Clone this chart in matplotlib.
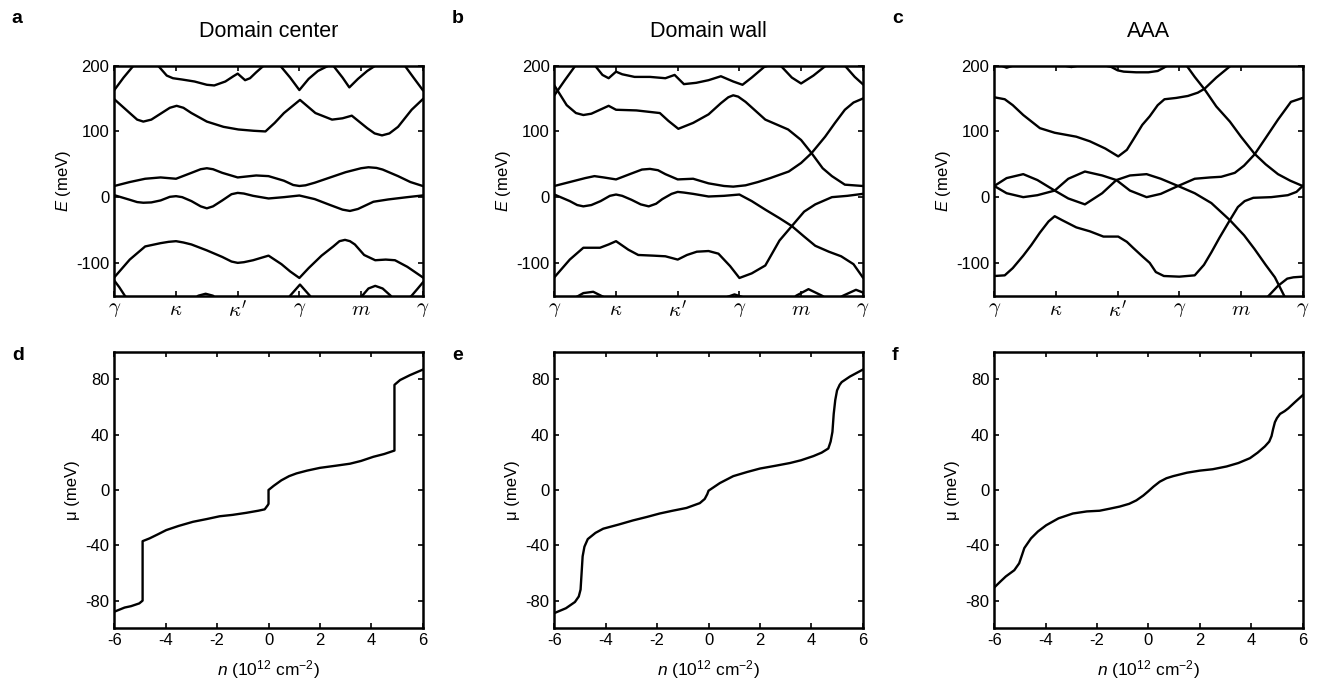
import matplotlib.pyplot as plt
import numpy as np

plt.rcParams['font.family'] = ['Liberation Sans', 'DejaVu Sans']
plt.rcParams['mathtext.fontset'] = 'custom'
plt.rcParams['mathtext.rm'] = 'Liberation Sans'
plt.rcParams['mathtext.it'] = 'Liberation Sans:italic'
plt.rcParams['axes.unicode_minus'] = False

# ---- band structures (k path index 0..5 : gamma, kappa, kappa', gamma, m, gamma) ----
k_labels = [r'$\gamma$', r'$\kappa$', r"$\kappa'$", r'$\gamma$', r'$m$', r'$\gamma$']

# a: domain center
ca1_k = [0, 0.25, 0.5, 0.75, 0.88, 1.0, 1.12, 1.25, 1.5, 1.75, 1.9, 2.0, 2.1, 2.25, 2.5, 2.71, 2.85, 3.0, 3.15, 3.36, 3.55, 3.65, 3.74, 3.82, 3.9, 4.05, 4.23, 4.4, 4.55, 4.75, 5.0]
ca1_e = [-122, -95, -75, -70, -68, -67, -69, -72, -81, -91, -98, -100, -99, -96, -89, -102, -113, -123, -108, -89, -75, -67, -65, -67, -72, -88, -96, -95, -96, -106, -122]
ca2_k = [0, 0.08, 0.17, 0.3, 1.25, 1.36, 1.48, 1.6, 1.7, 2.7, 2.85, 3.01, 3.17, 3.3, 3.9, 4.02, 4.12, 4.23, 4.35, 4.48, 4.6, 4.7, 4.82, 4.92, 5.0]
ca2_e = [-127, -137, -150, -165, -160, -150, -147, -150, -160, -170, -150, -133, -150, -170, -165, -150, -139, -135, -139, -150, -165, -160, -150, -139, -130]
ca3_k = [0, 0.25, 0.37, 0.47, 0.6, 0.75, 0.9, 1.0, 1.1, 1.25, 1.4, 1.5, 1.6, 1.75, 1.9, 2.0, 2.1, 2.25, 2.5, 2.75, 3.0, 3.25, 3.5, 3.7, 3.82, 3.95, 4.2, 4.44, 4.75, 5.0]
ca3_e = [3, -4, -7.5, -8.5, -8, -5, 0.5, 1.5, 0, -6, -14, -17, -14, -5, 4.5, 6.5, 5.5, 2, -2, 0, 2.5, -3, -12, -19, -21, -18, -7, -3.5, 0, 2.6]
ca4_k = [0, 0.25, 0.5, 0.75, 1.0, 1.25, 1.4, 1.5, 1.6, 1.75, 2.0, 2.3, 2.5, 2.75, 2.9, 3.0, 3.1, 3.25, 3.5, 3.75, 4.0, 4.12, 4.25, 4.35, 4.6, 4.8, 5.0]
ca4_e = [17, 23, 28, 30, 28, 37, 42.5, 44, 42.5, 37, 30, 33, 32, 25, 18.5, 17, 18, 22, 30, 38, 44, 45.5, 44.5, 42, 32, 23, 17]
ca5_k = [0, 0.25, 0.37, 0.47, 0.6, 0.75, 0.9, 1.01, 1.12, 1.25, 1.5, 1.77, 2.01, 2.26, 2.45, 2.6, 2.75, 3.01, 3.26, 3.53, 3.7, 3.85, 4.1, 4.22, 4.34, 4.46, 4.6, 4.82, 5.0]
ca5_e = [149, 128, 118, 115, 118, 127, 136, 139, 136, 128, 115, 107, 103, 101, 100, 113, 128, 148, 128, 118, 120, 124, 105, 97, 94, 97, 107, 133, 149]
ca6_k = [0, 0.15, 0.31, 0.5, 0.71, 0.85, 0.95, 1.1, 1.3, 1.5, 1.62, 1.8, 1.93, 2.0, 2.06, 2.12, 2.2, 2.3, 2.42, 2.55, 2.69, 2.85, 3.0, 3.15, 3.3, 3.47, 3.51, 3.55, 3.7, 3.81, 3.95, 4.1, 4.23, 4.45, 4.71, 4.85, 5.0]
ca6_e = [163, 182, 200, 215, 200, 185, 181, 179, 176, 171, 170, 176, 184, 188, 183, 178, 181, 190, 200, 212, 200, 182, 163, 180, 192, 200, 202, 200, 182, 167, 180, 192, 200, 215, 200, 182, 163]

# b: domain wall
wb1_k = [0, 0.25, 0.47, 0.74, 0.88, 1.0, 1.2, 1.36, 1.6, 1.8, 2.0, 2.15, 2.31, 2.5, 2.66, 2.85, 3.0, 3.2, 3.42, 3.65, 3.85, 4.05, 4.23, 4.5, 4.75, 5.0]
wb1_e = [-122, -95, -77, -77, -72, -67, -80, -88, -89, -90, -95, -88, -83, -82, -86, -105, -123, -116, -104, -66, -44, -22, -11, 0, 2, 5]
wb2_k = [0, 0.25, 0.37, 0.47, 0.6, 0.75, 0.9, 1.0, 1.1, 1.25, 1.4, 1.53, 1.65, 1.75, 1.9, 2.0, 2.1, 2.25, 2.5, 2.75, 3.0, 3.2, 3.42, 3.65, 3.85, 4.05, 4.23, 4.45, 4.65, 4.85, 5.0]
wb2_e = [4, -6, -12, -14, -12, -6, 2, 4, 2, -4, -11, -14, -10, -3, 5, 8, 7, 5, 1, 2, 4, -6, -19, -32, -44, -60, -74, -83, -90, -102, -122]
wb3_k = [0, 0.25, 0.5, 0.65, 0.8, 1.0, 1.25, 1.42, 1.55, 1.68, 1.8, 2.0, 2.25, 2.5, 2.75, 2.9, 3.1, 3.3, 3.5, 3.8, 4.0, 4.17, 4.39, 4.55, 4.71, 4.85, 5.0]
wb3_e = [17, 23, 29, 32, 30, 27, 36, 42, 43, 41, 35, 27, 28, 21, 17, 16, 18, 23, 29, 39, 52, 67, 92, 113, 133, 144, 150]
wb4_k = [0, 0.2, 0.35, 0.47, 0.6, 0.74, 0.88, 1.0, 1.33, 1.71, 1.85, 2.01, 2.25, 2.5, 2.7, 2.82, 2.9, 2.98, 3.1, 3.42, 3.79, 4.0, 4.17, 4.35, 4.5, 4.71, 5.0]
wb4_e = [170, 140, 128, 125, 127, 133, 139, 133, 132, 128, 116, 104, 113, 126, 143, 152, 155, 153, 145, 118, 103, 87, 67, 44, 32, 19, 17]
wb5_k = [0, 0.17, 0.34, 0.5, 0.66, 0.78, 0.88, 1.0, 1.1, 1.3, 1.55, 1.8, 1.95, 2.1, 2.3, 2.5, 2.7, 2.9, 3.05, 3.2, 3.4, 3.55, 3.68, 3.85, 4.0, 4.2, 4.4, 4.55, 4.72, 4.87, 5.0]
wb5_e = [155, 178, 200, 212, 200, 186, 181, 191, 187, 183, 183, 181, 186, 172, 174, 178, 184, 176, 171, 182, 198, 203, 199, 182, 173, 185, 200, 210, 199, 183, 172]
wb6_k = [0, 0.3, 0.47, 0.63, 0.8, 1.0, 2.6, 2.8, 2.92, 3.05, 3.3, 3.8, 3.92, 4.12, 4.34, 4.5, 4.68, 4.89, 5.0]
wb6_e = [-175, -155, -146, -144, -152, -170, -165, -152, -148, -152, -170, -165, -150, -140, -150, -160, -150, -141, -145]

# c: AAA
ac1_k = [0, 0.17, 0.3, 0.47, 0.6, 0.74, 0.88, 0.98, 1.1, 1.33, 1.55, 1.77, 2.01, 2.15, 2.25, 2.4, 2.52, 2.62, 2.75, 3.0, 3.25, 3.4, 3.52, 3.65, 3.82, 3.95, 4.06, 4.2, 4.49, 4.76, 4.9, 5.0]
ac1_e = [-120, -119, -108, -89, -73, -54, -37, -29, -35, -46, -52, -60, -60, -68, -77, -90, -100, -114, -120, -121, -119, -103, -84, -62, -35, -15, -6, -1, 0, 3, 8, 17]
ac2_k = [0, 0.2, 0.47, 0.7, 0.98, 1.2, 1.47, 1.75, 1.98, 2.2, 2.47, 2.7, 2.98, 3.25, 3.52, 3.82, 4.05, 4.22, 4.4, 4.55, 4.7, 4.85]
ac2_e = [17, 29, 35, 26, 10, -2, -11, 6, 26, 33, 35, 28, 17, 6, -9, -35, -58, -79, -103, -122, -150, -175]
ac3_k = [0, 0.2, 0.47, 0.7, 0.98, 1.2, 1.47, 1.75, 1.98, 2.2, 2.47, 2.7, 2.98, 3.25, 3.5, 3.68, 3.9, 4.05, 4.22, 4.4, 4.6, 4.81, 5.0]
ac3_e = [17, 6, 0, 3, 10, 28, 39, 33, 26, 10, 0, 5, 17, 28, 30, 31, 37, 48, 65, 90, 118, 145, 151]
ac4_k = [0, 0.17, 0.3, 0.47, 0.74, 0.98, 1.33, 1.55, 1.8, 2.01, 2.15, 2.25, 2.4, 2.52, 2.65, 2.76, 2.95, 3.14, 3.3, 3.41, 3.6, 3.82, 4.0]
ac4_e = [152, 149, 140, 125, 105, 98, 92, 85, 74, 62, 72, 87, 110, 123, 140, 149, 151, 154, 159, 165, 182, 199, 215]
ac5_k = [2.9, 3.12, 3.25, 3.41, 3.6, 3.82, 4.0, 4.22, 4.4, 4.6, 4.8, 5.0]
ac5_e = [227, 200, 183, 164, 138, 115, 92, 66, 50, 35, 25, 17]
ac6_k = [4.3, 4.45, 4.6, 4.75, 4.85, 5.0]
ac6_e = [-165, -150, -135, -124, -122, -121]
ac7_k = [0, 0.12, 0.2, 0.3, 0.4, 0.6, 1.0, 1.15, 1.25, 1.35, 1.6, 1.9, 2.0, 2.1, 2.3, 2.5, 2.65, 2.75, 2.85, 3.0]
ac7_e = [205, 200, 197, 200, 206, 212, 206, 200, 198, 200, 205, 198, 193, 191, 190, 190, 192, 197, 203, 215]

# ---- chemical potential vs density ----
n_center = [-6, -5.6, -5.35, -5.03, -4.9, -4.9, -4.63, -4.3, -3.98, -3.5, -2.94, -2.4, -1.9, -1.4, -0.86, -0.4, -0.15, -0.03, 0.0, 0.0, 0.2, 0.5, 0.8, 1.09, 1.5, 2.0, 2.6, 3.17, 3.6, 4.08, 4.5, 4.9, 4.9, 5.12, 5.5, 6.0]
mu_center = [-88, -85, -84, -82, -80, -37, -35, -32, -29, -26, -23, -21, -19, -18, -16.5, -15, -14, -11, -10, 0, 3, 7, 10, 12, 14, 16, 17.5, 19, 21, 24, 26, 28.5, 76, 79.5, 83, 87]
n_wall = [-6, -5.55, -5.2, -5.05, -4.98, -4.94, -4.9, -4.83, -4.7, -4.4, -4.1, -3.5, -2.94, -2.4, -1.9, -1.4, -0.86, -0.34, -0.15, -0.05, 0.0, 0.2, 0.44, 0.7, 0.96, 1.5, 2.0, 2.6, 3.17, 3.6, 4.08, 4.4, 4.66, 4.75, 4.82, 4.87, 4.93, 5.0, 5.1, 5.18, 5.5, 6.0]
mu_wall = [-89, -85.5, -81, -77, -72, -60, -48, -41, -35.5, -31, -28, -25, -22, -19.5, -17, -15, -13, -9.5, -6.5, -3, -0.5, 2, 5, 7.5, 10, 13, 15.5, 17.5, 19.5, 21.5, 24.5, 27, 30, 35, 42, 55, 65, 72, 76, 78, 82, 87]
n_aaa = [-6, -5.75, -5.55, -5.22, -5.03, -4.92, -4.83, -4.57, -4.3, -3.98, -3.5, -2.94, -2.4, -1.9, -1.5, -1.12, -0.75, -0.47, -0.2, -0.01, 0.2, 0.44, 0.7, 0.96, 1.5, 2.0, 2.5, 3.04, 3.5, 3.95, 4.25, 4.53, 4.7, 4.79, 4.85, 4.92, 5.0, 5.12, 5.3, 5.44, 5.7, 6.0]
mu_aaa = [-70.5, -66, -62.5, -58, -53, -47, -42, -35, -30, -25.5, -20.5, -17, -15.5, -15, -13.5, -12, -10, -7.5, -4, -1, 2.5, 6, 8.5, 10, 12.5, 14, 15, 17, 19.5, 23, 27, 31.5, 35, 39, 44, 49, 52, 55, 57, 59, 63.5, 68.5]

titles = ['Domain center', 'Domain wall', 'AAA']
letters_top = ['a', 'b', 'c']
letters_bottom = ['d', 'e', 'f']

bands = [
    [(ca1_k, ca1_e), (ca2_k, ca2_e), (ca3_k, ca3_e), (ca4_k, ca4_e), (ca5_k, ca5_e), (ca6_k, ca6_e)],
    [(wb1_k, wb1_e), (wb2_k, wb2_e), (wb3_k, wb3_e), (wb4_k, wb4_e), (wb5_k, wb5_e), (wb6_k, wb6_e)],
    [(ac1_k, ac1_e), (ac2_k, ac2_e), (ac3_k, ac3_e), (ac4_k, ac4_e), (ac5_k, ac5_e), (ac6_k, ac6_e), (ac7_k, ac7_e)],
]
mu_curves = [(n_center, mu_center), (n_wall, mu_wall), (n_aaa, mu_aaa)]

fig = plt.figure(figsize=(13.31, 6.89), dpi=100)
lefts = [0.0859, 0.4165, 0.7470]
w = 0.2317

def style(ax):
    for s in ax.spines.values():
        s.set_linewidth(1.8)
    ax.tick_params(direction='in', top=True, right=True, length=3.5, width=1.2, labelsize=12)

for i in range(3):
    ax = fig.add_axes([lefts[i], 0.5708, w, 0.3338])
    for kx, ke in bands[i]:
        ax.plot(kx, ke, color='black', lw=1.7, solid_joinstyle='round')
    ax.set_xlim(0, 5)
    ax.set_ylim(-150, 200)
    ax.set_yticks([-100, 0, 100, 200])
    ax.set_xticks(range(6))
    style(ax)
    ax.set_xticklabels(k_labels, math_fontfamily='cm', fontsize=15)
    ax.tick_params(axis='x', pad=3)
    ax.set_ylabel(r'$E$ (meV)', fontsize=12, labelpad=2)
    ax.set_title(titles[i], fontsize=15.5, pad=21)

    ax2 = fig.add_axes([lefts[i], 0.0881, w, 0.4015])
    n, mu = mu_curves[i]
    ax2.plot(n, mu, color='black', lw=1.7, solid_joinstyle='round')
    ax2.set_xlim(-6, 6)
    ax2.set_ylim(-100, 100)
    ax2.set_xticks([-6, -4, -2, 0, 2, 4, 6])
    ax2.set_yticks([-80, -40, 0, 40, 80])
    style(ax2)
    ax2.set_ylabel('μ (meV)', fontsize=12, labelpad=4)
    ax2.set_xlabel(r'$n$ (10$^{12}$ cm$^{-2}$)', fontsize=12.5, labelpad=7)

    fig.text(lefts[i] - 0.077, 0.985, letters_top[i], fontsize=14, fontweight='bold', va='top')
    fig.text(lefts[i] - 0.077, 0.497, letters_bottom[i], fontsize=14, fontweight='bold', va='top')

fig.savefig('out.png', dpi=100)
